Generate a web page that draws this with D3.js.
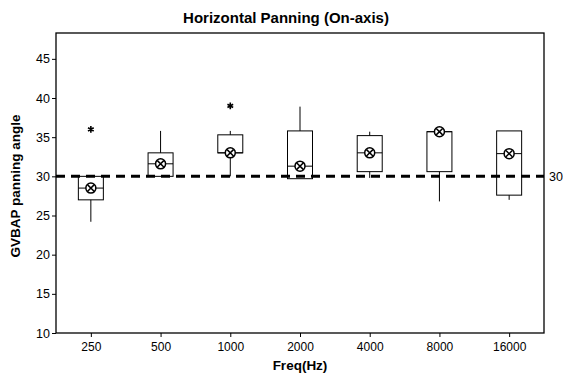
<!DOCTYPE html>
<html><head><meta charset="utf-8">
<script src="https://cdn.jsdelivr.net/npm/d3@7"></script>
<style>body{margin:0;background:#fff;} svg{display:block;} text{font-family:"Liberation Sans",Arial,sans-serif;}</style>
</head><body>
<svg id="c" width="563" height="376"></svg>
<script>
const freqs = ["250","500","1000","2000","4000","8000","16000"];
const q1 = [27.0, 30.0, 33.0, 29.7, 30.6, 30.6, 27.6];
const medians = [28.5, 31.6, 33.0, 31.3, 33.0, 35.7, 32.9];
const q3 = [30.0, 33.0, 35.3, 35.8, 35.2, 35.7, 35.8];
const whiskerLow = [24.2, 30.0, 30.0, 29.7, 29.8, 26.8, 27.0];
const whiskerHigh = [30.0, 35.8, 35.8, 38.9, 35.7, 35.7, 35.8];
const means = [28.5, 31.6, 33.0, 31.3, 33.0, 35.7, 32.9];
const outlierFreq = ["250","1000"];
const outlierVal = [36.0, 39.0];
const yTicks = [10,15,20,25,30,35,40,45];
const refValue = 30;

const svg = d3.select("#c");
const L=56, R=544, T=33, B=333;
const x = d3.scalePoint().domain(freqs).range([L,R]).padding(0.5);
const y = d3.scaleLinear().domain([10,48.3]).range([B,T]);

// frame
svg.append("rect").attr("x",L).attr("y",T).attr("width",R-L).attr("height",B-T)
  .attr("fill","none").attr("stroke","#000").attr("stroke-width",1.3);

// axes
const ya = svg.append("g").attr("transform",`translate(${L},0)`)
  .call(d3.axisLeft(y).tickValues(yTicks).tickSize(4).tickPadding(2).tickSizeOuter(0));
ya.select(".domain").remove();
ya.selectAll("text").attr("font-size",12.5).attr("fill","#000");
const xa = svg.append("g").attr("transform",`translate(0,${B})`)
  .call(d3.axisBottom(x).tickSize(4).tickPadding(5).tickSizeOuter(0));
xa.select(".domain").remove();
xa.selectAll("text").attr("font-size",12).attr("fill","#000");

// reference line
svg.append("line").attr("x1",L).attr("x2",R).attr("y1",y(refValue)).attr("y2",y(refValue))
  .attr("stroke","#000").attr("stroke-width",3).attr("stroke-dasharray","9,6");
svg.append("text").attr("x",R+5).attr("y",y(refValue)).attr("dy","0.35em")
  .attr("font-size",12.5).text(String(refValue));

const bw = 25;
const g = svg.append("g");
freqs.forEach((f,i)=>{
  const cx = x(f);
  g.append("line").attr("x1",cx).attr("x2",cx).attr("y1",y(q3[i])).attr("y2",y(whiskerHigh[i])).attr("stroke","#000");
  g.append("line").attr("x1",cx).attr("x2",cx).attr("y1",y(q1[i])).attr("y2",y(whiskerLow[i])).attr("stroke","#000");
  g.append("rect").attr("x",cx-bw/2).attr("y",y(q3[i])).attr("width",bw).attr("height",y(q1[i])-y(q3[i]))
    .attr("fill","none").attr("stroke","#000");
  g.append("line").attr("x1",cx-bw/2).attr("x2",cx+bw/2).attr("y1",y(medians[i])).attr("y2",y(medians[i])).attr("stroke","#000");
  const my = y(means[i]);
  g.append("circle").attr("cx",cx).attr("cy",my).attr("r",5).attr("fill","#fff").attr("stroke","#000").attr("stroke-width",1.5);
  const d=3.2;
  g.append("path").attr("d",`M${cx-d},${my-d}L${cx+d},${my+d}M${cx-d},${my+d}L${cx+d},${my-d}`).attr("stroke","#000").attr("stroke-width",1.5);
});
outlierFreq.forEach((f,i)=>{
  svg.append("path").attr("transform",`translate(${x(f)},${y(outlierVal[i])})`)
    .attr("d",d3.symbol(d3.symbolAsterisk,30)()).attr("stroke","#000").attr("stroke-width",1.6).attr("fill","none");
});

// titles
svg.append("text").attr("x",286).attr("y",23).attr("text-anchor","middle").attr("font-size",15).attr("font-weight","bold").text("Horizontal Panning (On-axis)");
svg.append("text").attr("x",300).attr("y",370).attr("text-anchor","middle").attr("font-size",13.5).attr("font-weight","bold").text("Freq(Hz)");
svg.append("text").attr("transform",`translate(20,${(T+B)/2+3}) rotate(-90)`).attr("text-anchor","middle").attr("font-size",13.5).attr("font-weight","bold").text("GVBAP panning angle");
</script>
</body></html>
